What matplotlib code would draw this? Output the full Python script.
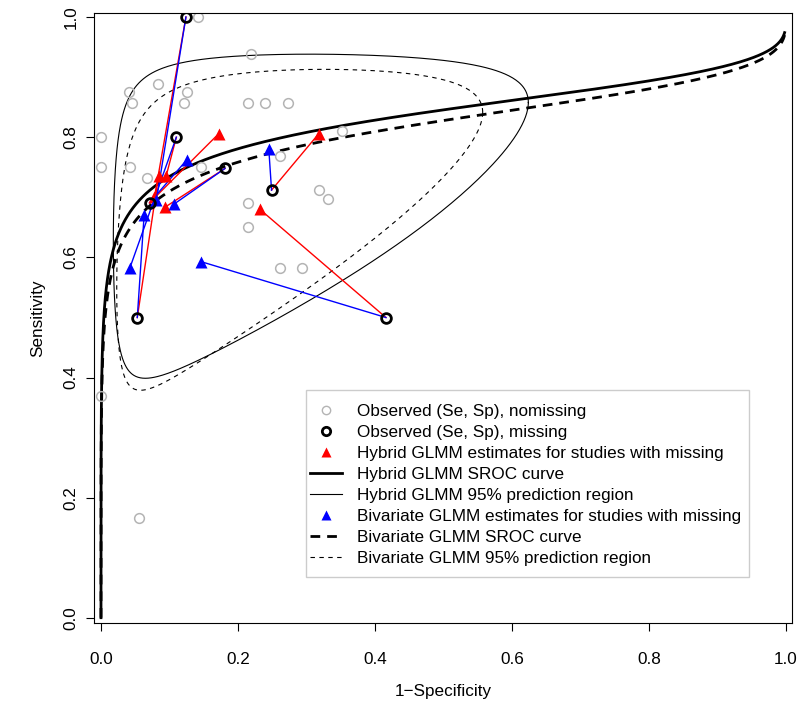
# SROC plot: hybrid vs bivariate GLMM, studies with missing data
import numpy as np
import matplotlib.pyplot as plt
from matplotlib.lines import Line2D
from matplotlib.patches import Rectangle

plt.rcParams['font.family'] = ['Liberation Sans', 'DejaVu Sans']

# ---------------------------------------------------------------------------
# observed (1-Sp, Se) for complete studies
# ---------------------------------------------------------------------------
obs_fpr = [0.142, 0.219, 0.041, 0.046, 0.083, 0.125, 0.121, 0.214, 0.239,
           0.273, 0.000, 0.352, 0.000, 0.043, 0.067, 0.146, 0.262, 0.214,
           0.319, 0.332, 0.214, 0.262, 0.293, 0.000, 0.056]
obs_se = [1.000, 0.938, 0.875, 0.857, 0.889, 0.875, 0.857, 0.857, 0.857,
          0.857, 0.800, 0.811, 0.750, 0.750, 0.732, 0.750, 0.768, 0.691,
          0.713, 0.698, 0.651, 0.582, 0.582, 0.369, 0.166]

# observed for studies with missing data
miss_fpr = [0.124, 0.110, 0.181, 0.249, 0.071, 0.053, 0.416]
miss_se = [1.000, 0.800, 0.748, 0.712, 0.691, 0.500, 0.500]

# model estimates for those same studies (same order)
hyb_fpr = [0.078, 0.095, 0.094, 0.318, 0.172, 0.084, 0.232]
hyb_se = [0.700, 0.735, 0.684, 0.806, 0.806, 0.735, 0.680]
biv_fpr = [0.081, 0.042, 0.107, 0.245, 0.125, 0.063, 0.146]
biv_se = [0.696, 0.582, 0.689, 0.780, 0.762, 0.671, 0.593]

# SROC: logit(Se) = a + b * logit(1-Sp)
hyb_sroc = [1.70, 0.31]
biv_sroc = [1.57, 0.307]

# 95% prediction regions in logit space: centre x, centre y, half x, half y, rho
hyb_region = [-1.747, 1.155, 2.253, 1.565, 0.41]
biv_region = [-1.760, 0.928, 1.990, 1.422, 0.52]

legend_labels = ['Observed (Se, Sp), nomissing',
                 'Observed (Se, Sp), missing',
                 'Hybrid GLMM estimates for studies with missing',
                 'Hybrid GLMM SROC curve',
                 'Hybrid GLMM 95% prediction region',
                 'Bivariate GLMM estimates for studies with missing',
                 'Bivariate GLMM SROC curve',
                 'Bivariate GLMM 95% prediction region']

GRAY = '#b4b4b4'
FS = 12.3


def expit(v):
    return 1.0 / (1.0 + np.exp(-v))


def sroc_xy(params):
    lx = np.linspace(-30, np.log(0.998 / 0.002), 3000)
    return expit(lx), expit(params[0] + params[1] * lx)


def region_xy(params):
    cx, cy, ax_, ay_, rho = params
    t = np.linspace(0, 2 * np.pi, 600)
    lx = cx + ax_ * np.cos(t)
    ly = cy + ay_ * np.cos(t - np.arccos(rho))
    return expit(lx), expit(ly)


fig = plt.figure(figsize=(7.99, 7.08), dpi=100)
ax = fig.add_axes([94 / 799, 1 - 623 / 708, 698 / 799, 610 / 708])

# regions + curves
x, y = region_xy(hyb_region)
ax.plot(x, y, color='black', lw=0.8)
x, y = region_xy(biv_region)
ax.plot(x, y, color='black', lw=0.8, linestyle=(0, (4, 4)))
x, y = sroc_xy(hyb_sroc)
ax.plot(x, y, color='black', lw=2.0)
x, y = sroc_xy(biv_sroc)
ax.plot(x, y, color='black', lw=2.0, linestyle=(0, (3.5, 2.5)))

ax.plot(obs_fpr, obs_se, 'o', mfc='none', mec=GRAY, ms=7, mew=1.1)

# links from observed to estimates
for i in range(len(miss_fpr)):
    ax.plot([miss_fpr[i], hyb_fpr[i]], [miss_se[i], hyb_se[i]], color='red', lw=1)
    ax.plot([miss_fpr[i], biv_fpr[i]], [miss_se[i], biv_se[i]], color='blue', lw=1)

ax.plot(hyb_fpr, hyb_se, '^', color='red', ms=8, mec='none')
ax.plot(biv_fpr, biv_se, '^', color='blue', ms=8, mec='none')
ax.plot(miss_fpr, miss_se, 'o', mfc='none', mec='black', ms=7, mew=2)

# ---------------------------------------------------------------------------
# axes, R-ish
# ---------------------------------------------------------------------------
ax.set_xlim(-0.0102, 1.0088)
ax.set_ylim(-0.0083, 1.0067)
ticks = [0, 0.2, 0.4, 0.6, 0.8, 1.0]
ax.set_xticks(ticks)
ax.set_xticklabels([f'{t:.1f}' for t in ticks], fontsize=FS)
ax.set_yticks(ticks)
ax.set_yticklabels([f'{t:.1f}' for t in ticks], fontsize=FS,
                   rotation=90, va='center')
ax.tick_params(axis='x', length=6, pad=15)
ax.tick_params(axis='y', length=6, pad=5)
ax.set_xlabel('1\u2212Specificity', fontsize=FS, labelpad=12)
ax.set_ylabel('Sensitivity', fontsize=FS, labelpad=13)

# legend: R-style box drawn separately so the inner padding can be tight
handles = [
    Line2D([], [], ls='none', marker='o', mfc='none', mec=GRAY, ms=6, mew=1),
    Line2D([], [], ls='none', marker='o', mfc='none', mec='black', ms=6, mew=2),
    Line2D([], [], ls='none', marker='^', color='red', ms=7, mec='none'),
    Line2D([], [], color='black', lw=2),
    Line2D([], [], color='black', lw=0.8),
    Line2D([], [], ls='none', marker='^', color='blue', ms=7, mec='none'),
    Line2D([], [], color='black', lw=2, linestyle=(0, (3.5, 2.5))),
    Line2D([], [], color='black', lw=0.8, linestyle=(0, (4, 4))),
]
ax.legend(handles, legend_labels, loc='upper left',
          bbox_to_anchor=((305 - 94) / 698, (623 - 399) / 610), fontsize=FS,
          frameon=False, handlelength=1.87, handletextpad=0.88,
          labelspacing=0.35, borderpad=0.3, borderaxespad=0)
ax.add_patch(Rectangle(((306 - 94) / 698, (623 - 577) / 610),
                       (749 - 306) / 698, (577 - 390) / 610,
                       transform=ax.transAxes, fill=False,
                       edgecolor='#cccccc', lw=1.0, zorder=5))

plt.savefig('out.png', dpi=100)
plt.close(fig)
